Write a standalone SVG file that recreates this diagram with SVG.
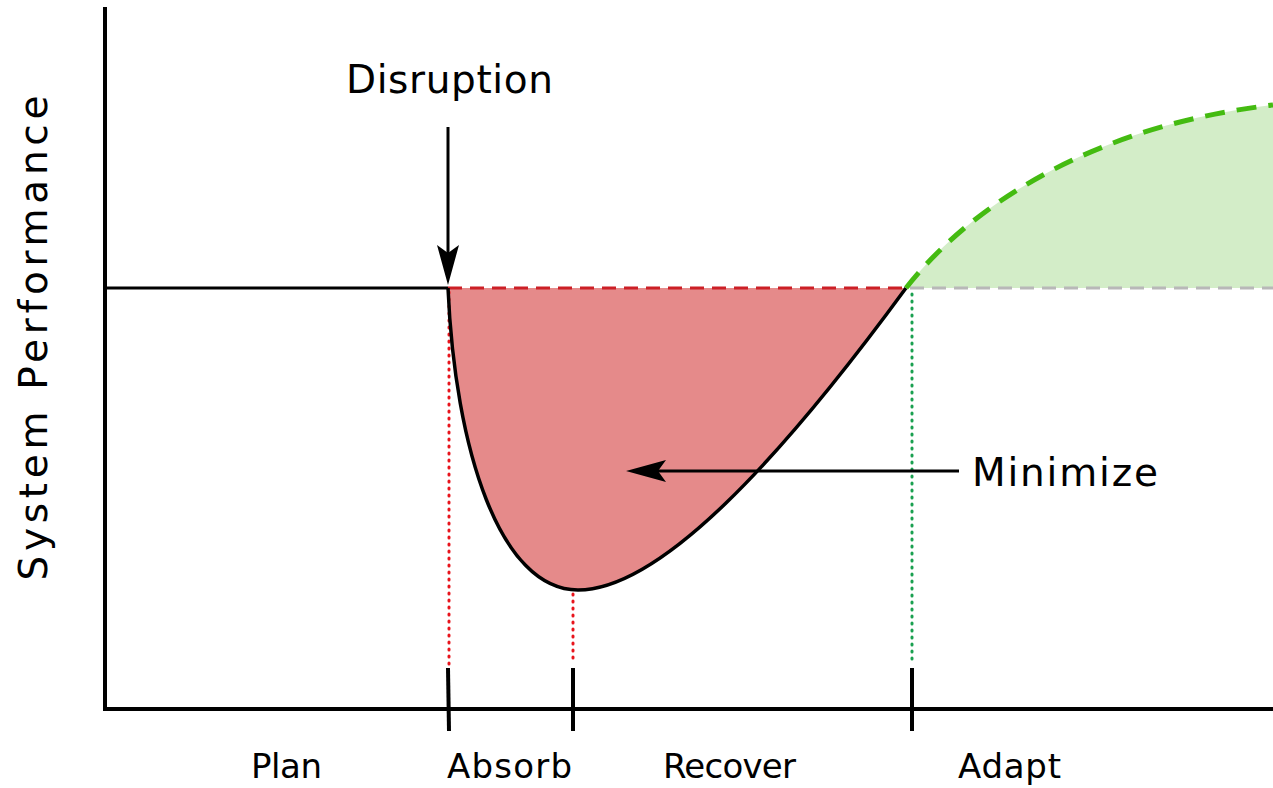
<svg xmlns="http://www.w3.org/2000/svg" width="1273" height="788" viewBox="0 0 1273 788">
<style>
text{font-family:"DejaVu Sans","Liberation Sans",sans-serif;fill:#000}
.lbl{font-size:34px}
.big{font-size:39px}
</style>
<defs>
<marker id="ah" viewBox="-34 -12 44 24" refX="0" refY="0" markerWidth="44" markerHeight="24" orient="auto" markerUnits="userSpaceOnUse"><path d="M8,0 L-32,-11 L-24,0 L-32,11 Z" fill="#000"/></marker>
</defs>
<rect width="1273" height="788" fill="#fff"/>
<g id="areas">
<path d="M906,288 C975,200 1100,125 1273,105 L1273,288 Z" fill="#d3edc8"/>
<path d="M448,288 C455,450 500,590 578,590 C660,590 780,460 906,288 Z" fill="#e58a8a"/>
</g>
<g id="guides">
<line x1="449" y1="292" x2="449" y2="668" stroke="#e8141c" stroke-width="3" stroke-dasharray="1 6" stroke-linecap="round"/>
<line x1="573" y1="594" x2="573" y2="664" stroke="#e8141c" stroke-width="3" stroke-dasharray="1 6" stroke-linecap="round"/>
<line x1="912" y1="294" x2="912" y2="664" stroke="#1aa050" stroke-width="3" stroke-dasharray="1 6" stroke-linecap="round"/>
<line x1="448" y1="288" x2="906" y2="288" stroke="#cc1f26" stroke-width="3" stroke-dasharray="14 8"/>
<line x1="910" y1="288" x2="1273" y2="288" stroke="#b8b8b8" stroke-width="3" stroke-dasharray="14 8"/>
</g>
<g id="axes">
<line x1="105" y1="7" x2="105" y2="711" stroke="#000" stroke-width="4"/>
<line x1="103" y1="709" x2="1273" y2="709" stroke="#000" stroke-width="4"/>
<line x1="448" y1="668" x2="449" y2="731" stroke="#000" stroke-width="4"/>
<line x1="573" y1="668" x2="573" y2="731" stroke="#000" stroke-width="4"/>
<line x1="912" y1="668" x2="912" y2="731" stroke="#000" stroke-width="4"/>
</g>
<g id="curves">
<line x1="105" y1="288" x2="448" y2="288" stroke="#000" stroke-width="3"/>
<path d="M448,288 C455,450 500,590 578,590 C660,590 780,460 906,288" fill="none" stroke="#000" stroke-width="3.5"/>
<path d="M906,288 C975,200 1100,125 1273,105" fill="none" stroke="#44bb11" stroke-width="5" stroke-dasharray="20 12"/>
</g>
<g id="connectors">
<line x1="448" y1="127" x2="448" y2="277" stroke="#000" stroke-width="3" marker-end="url(#ah)"/>
<line x1="959" y1="471" x2="634" y2="471" stroke="#000" stroke-width="3" marker-end="url(#ah)"/>
</g>
<g id="labels">
<text class="big" x="346" y="93" textLength="207" lengthAdjust="spacing">Disruption</text>
<text class="big" x="972" y="486" textLength="186" lengthAdjust="spacing">Minimize</text>
<text class="big" transform="translate(47,338) rotate(-90)" text-anchor="middle" textLength="485" lengthAdjust="spacing">System Performance</text>
<text class="lbl" x="251" y="778" textLength="71" lengthAdjust="spacing">Plan</text>
<text class="lbl" x="447" y="778" textLength="125" lengthAdjust="spacing">Absorb</text>
<text class="lbl" x="663" y="778" textLength="133" lengthAdjust="spacing">Recover</text>
<text class="lbl" x="958" y="778" textLength="103" lengthAdjust="spacing">Adapt</text>
</g>
</svg>
